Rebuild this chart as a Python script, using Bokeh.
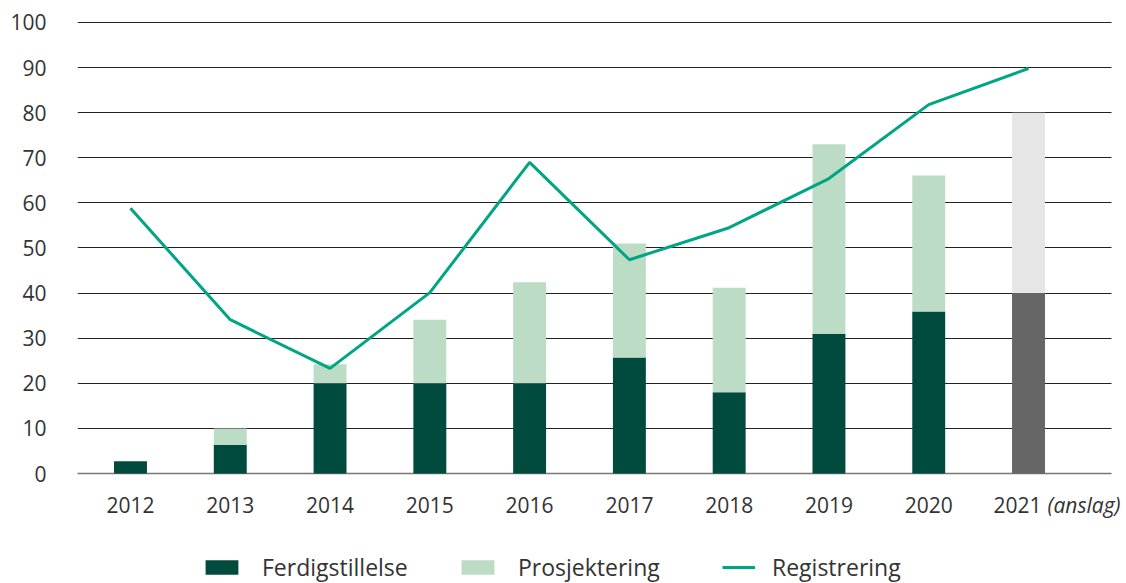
from bokeh.plotting import figure
from bokeh.models import (ColumnDataSource, Range1d, FixedTicker, Legend, LegendItem, Span,
                          BoxAnnotation)
from bokeh.transform import stack
from bokeh.embed import file_html
from bokeh.resources import INLINE

# ---- data ----
years = [2012, 2013, 2014, 2015, 2016, 2017, 2018, 2019, 2020, 2021]
year_labels = ["2012", "2013", "2014", "2015", "2016", "2017", "2018", "2019", "2020", "2021"]
estimate_suffix = "(anslag)"
ferdigstillelse = [2.7, 6.4, 20.0, 20.0, 20.0, 25.7, 18.0, 31.0, 35.9, 40.0]
prosjektering = [0.0, 3.6, 4.2, 14.1, 22.4, 25.3, 23.2, 42.0, 30.2, 40.0]
registrering = [58.8, 34.1, 23.3, 40.1, 69.0, 47.4, 54.5, 65.4, 81.8, 89.8]
estimate_year = 2021
y_ticks = [0, 10, 20, 30, 40, 50, 60, 70, 80, 90, 100]

# ---- styles ----
DARK = "#004a3e"
LIGHT = "#bddcc5"
GREY_DARK = "#666666"
GREY_LIGHT = "#e6e6e6"
LINE = "#00a584"
TEXT = "#333333"
FONT = "Open Sans"
X_START, X_END, GRID_END = 2011.469, 2021.982, 2021.832
Y_START, Y_END = -24.39, 100.443

is_est = [y == estimate_year for y in years]
src = ColumnDataSource(dict(
    year=years,
    ferdig=ferdigstillelse,
    proj=prosjektering,
    reg=registrering,
    ferdig_color=[GREY_DARK if e else DARK for e in is_est],
    proj_color=[GREY_LIGHT if e else LIGHT for e in is_est],
))

lab_src = ColumnDataSource(dict(
    year=[y for y, e in zip(years, is_est) if not e],
    label=[l for l, e in zip(year_labels, is_est) if not e],
    zero=[0] * sum(1 for e in is_est if not e),
))
est_src = ColumnDataSource(dict(
    year=[y for y, e in zip(years, is_est) if e],
    label=[l for l, e in zip(year_labels, is_est) if e],
    suffix=[estimate_suffix],
    zero=[0],
))

# frame extends below zero to hold tick labels and legend
p = figure(frame_width=1049, frame_height=563,
           min_border_left=77, min_border_right=0, min_border_top=20, min_border_bottom=0,
           x_range=Range1d(X_START, X_END), y_range=Range1d(Y_START, Y_END),
           x_axis_location=None,
           output_backend="svg", toolbar_location=None)
p.outline_line_color = None
p.background_fill_color = "white"
p.border_fill_color = "white"

# grid
p.xgrid.grid_line_color = None
p.ygrid.ticker = FixedTicker(ticks=y_ticks)
p.ygrid.grid_line_color = "#222222"
p.ygrid.grid_line_width = 1

# baseline (grey) and a white mask so grid lines stop before the right edge
p.add_layout(Span(location=0, dimension="width", line_color="#777777", line_width=1.5,
                  level="underlay"))
p.add_layout(BoxAnnotation(left=GRID_END, fill_color="white", fill_alpha=1.0,
                           line_color=None, level="underlay"))

r_f = p.vbar(x="year", width=0.33, bottom=0, top="ferdig", source=src,
             fill_color="ferdig_color", line_color=None)
r_p = p.vbar(x="year", width=0.33, bottom=stack("ferdig"), top=stack("ferdig", "proj"),
             source=src, fill_color="proj_color", line_color=None)
r_l = p.line(x="year", y="reg", source=src, line_color=LINE, line_width=3)

# y axis
p.yaxis.ticker = FixedTicker(ticks=y_ticks)
p.yaxis.axis_line_color = None
p.yaxis.major_tick_line_color = None
p.yaxis.minor_tick_line_color = None
p.yaxis.major_tick_out = 0
p.yaxis.major_tick_in = 0
p.yaxis.major_label_standoff = 31
p.yaxis.major_label_text_font = FONT
p.yaxis.major_label_text_font_size = "21px"
p.yaxis.major_label_text_color = TEXT

# x tick labels
p.text(x="year", y="zero", text="label", source=lab_src, y_offset=31,
       text_align="center", text_baseline="alphabetic", text_font={"value": FONT},
       text_font_size="21px", text_color=TEXT)
p.text(x="year", y="zero", text="label", source=est_src, x_offset=13, y_offset=31,
       text_align="right", text_baseline="alphabetic", text_font={"value": FONT},
       text_font_size="21px", text_color=TEXT)
p.text(x="year", y="zero", text="suffix", source=est_src, x_offset=19, y_offset=31,
       text_align="left", text_baseline="alphabetic", text_font={"value": FONT},
       text_font_size="21px", text_font_style="italic", text_color=TEXT)

# legends (three, placed individually inside the extended frame)
def make_legend(label, renderer, xpos, gw, gh, standoff):
    lg = Legend(items=[LegendItem(label=label, renderers=[renderer])],
                location=(xpos, 0), orientation="horizontal",
                glyph_width=gw, glyph_height=gh, label_standoff=standoff,
                label_height=22, padding=0, margin=0, spacing=0,
                border_line_color=None, background_fill_alpha=0,
                label_text_font=FONT, label_text_font_size="23px",
                label_text_color=TEXT)
    p.add_layout(lg, "center")

make_legend("Ferdigstillelse", r_f, 124, 41, 18, 20)
make_legend("Prosjektering", r_p, 380, 41, 18, 20)
make_legend("Registrering", r_l, 645, 33, 18, 17)

open("out.html", "w").write(file_html(p, INLINE))
